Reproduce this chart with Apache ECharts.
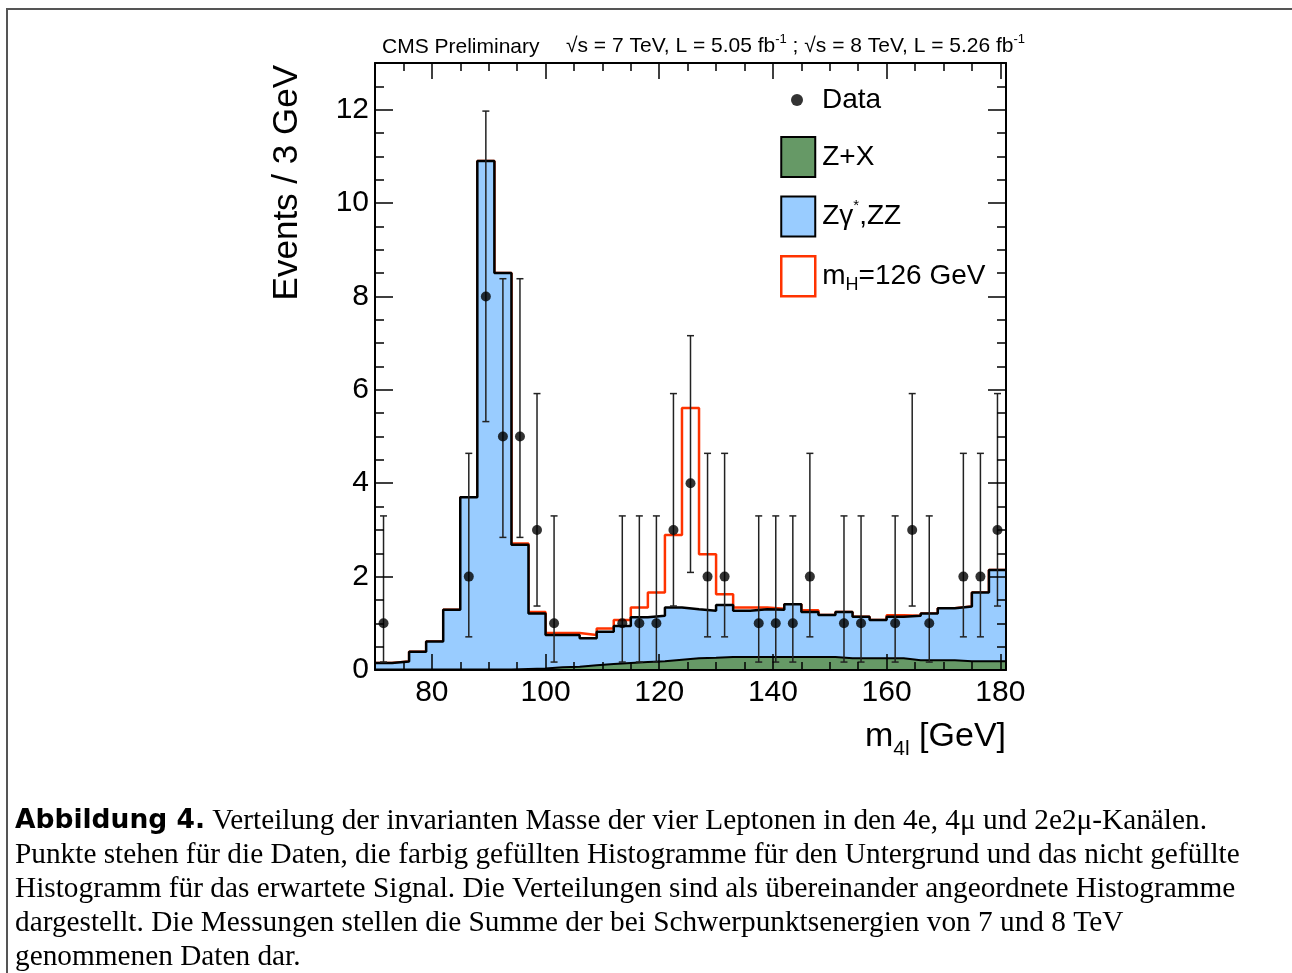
<!DOCTYPE html>
<html>
<head>
<meta charset="utf-8">
<title>m4l distribution</title>
<script src="https://cdn.jsdelivr.net/npm/echarts@6/dist/echarts.min.js"></script>
<style>
  html, body { margin: 0; padding: 0; background: #fff; }
  #chart { width: 1292px; height: 973px; }
</style>
</head>
<body>
<div id="chart"></div>
<script>
// bin edges in GeV (3 GeV bins)
const binEdges = [70, 73, 76, 79, 82, 85, 88, 91, 94, 97, 100, 103, 106, 109, 112, 115, 118, 121, 124,
  127, 130, 133, 136, 139, 142, 145, 148, 151, 154, 157, 160, 163, 166, 169, 172, 175, 178, 181];

// background Z+X per bin
const zxValues = [0.01, 0.01, 0.01, 0.01, 0.01, 0.01, 0.01, 0.01, 0.02, 0.03, 0.06, 0.07, 0.10, 0.13, 0.15,
  0.17, 0.19, 0.22, 0.25, 0.26, 0.28, 0.28, 0.28, 0.28, 0.28, 0.28, 0.28, 0.25, 0.25, 0.25, 0.25, 0.21,
  0.21, 0.21, 0.19, 0.19, 0.19];

// Zgamma*, ZZ per bin (stacked on Z+X)
const zzValues = [0.14, 0.17, 0.38, 0.60, 1.28, 3.69, 10.89, 8.49, 2.66, 1.18, 0.69, 0.68, 0.58, 0.69, 0.79,
  0.96, 0.97, 1.12, 1.05, 1.01, 1.11, 0.99, 1.02, 1.01, 1.13, 0.96, 0.90, 0.99, 0.89, 0.82, 0.89, 0.95,
  1.00, 1.11, 1.17, 1.47, 1.95];

// expected signal mH=126 GeV per bin (on top of background)
const signalValues = [0, 0, 0, 0, 0, 0, 0, 0, 0.03, 0.03, 0.04, 0.04, 0.07, 0.07, 0.13, 0.21, 0.50, 1.55,
  4.31, 1.21, 0.23, 0.07, 0.04, 0.02, 0, 0.04, 0, 0, 0, 0, 0.03, 0, 0, 0, 0, 0, 0];

// data points
const dataMass = [71.5, 86.5, 89.5, 92.5, 95.5, 98.5, 101.5, 113.5, 116.5, 119.5, 122.5, 125.5, 128.5,
  131.5, 137.5, 140.5, 143.5, 146.5, 152.5, 155.5, 161.5, 164.5, 167.5, 173.5, 176.5, 179.5];
const dataCounts = [1, 2, 8, 5, 5, 3, 1, 1, 1, 1, 3, 4, 2, 2, 1, 1, 1, 2, 1, 1, 1, 3, 1, 2, 2, 3];
const errLow = [0.17, 0.71, 5.32, 2.84, 2.84, 1.37, 0.17, 0.17, 0.17, 0.17, 1.37, 2.09, 0.71, 0.71, 0.17,
  0.17, 0.17, 0.71, 0.17, 0.17, 0.17, 1.37, 0.17, 0.71, 0.71, 1.37];
const errHigh = [3.30, 4.64, 11.97, 8.38, 8.38, 5.92, 3.30, 3.30, 3.30, 3.30, 5.92, 7.16, 4.64, 4.64, 3.30,
  3.30, 3.30, 4.64, 3.30, 3.30, 3.30, 5.92, 3.30, 4.64, 4.64, 5.92];

// ticks
const xMajor = [80, 100, 120, 140, 160, 180];
const xMinor = [75, 85, 90, 95, 105, 110, 115, 125, 130, 135, 145, 150, 155, 165, 170, 175];
const yMajor = [0, 2, 4, 6, 8, 10, 12];
const yMinor = [0.5, 1, 1.5, 2.5, 3, 3.5, 4.5, 5, 5.5, 6.5, 7, 7.5, 8.5, 9, 9.5, 10.5, 11, 11.5, 12.5];

const FONT = '"Liberation Sans", Arial, sans-serif';

const totalBg = zxValues.map((v, i) => v + zzValues[i]);
const totalSig = totalBg.map((v, i) => v + signalValues[i]);

const stepPoints = values =>
  values.map((v, i) => [binEdges[i], v]).concat([[binEdges[values.length], values[values.length - 1]]]);

const renderErrorBar = (params, api) => {
  const x = api.value(0);
  const lo = api.coord([x, api.value(1)]);
  const hi = api.coord([x, api.value(2)]);
  const cap = 3.5;
  const style = { stroke: '#222', lineWidth: 1.5 };
  return {
    type: 'group',
    children: [
      { type: 'line', shape: { x1: lo[0], y1: lo[1], x2: hi[0], y2: hi[1] }, style },
      { type: 'line', shape: { x1: hi[0] - cap, y1: hi[1], x2: hi[0] + cap, y2: hi[1] }, style },
      { type: 'line', shape: { x1: lo[0] - cap, y1: lo[1], x2: lo[0] + cap, y2: lo[1] }, style },
    ],
  };
};

const axisBase = (extra) => Object.assign({
  type: 'value',
  z: 10,
  splitLine: { show: false },
  axisLine: { show: false, onZero: false },
  axisLabel: { show: false },
}, extra);

const frameLine = { show: true, onZero: false, lineStyle: { color: '#000', width: 2 } };
const tickStyle = { color: '#000', width: 1.5 };

const legendLabels = {
  'Z+X': '{a|Z+X}',
  'Zγ*,ZZ': '{a|Zγ}{sup|*}{a|,ZZ}',
  'mH=126 GeV': '{a|m}{sub|H}{a|=126 GeV}',
};

const caption =
  '{b|Abbildung 4.} Verteilung der invarianten Masse der vier Leptonen in den 4e, 4μ und 2e2μ-Kanälen.\n' +
  'Punkte stehen für die Daten, die farbig gefüllten Histogramme für den Untergrund und das nicht gefüllte\n' +
  'Histogramm für das erwartete Signal. Die Verteilungen sind als übereinander angeordnete Histogramme\n' +
  'dargestellt. Die Messungen stellen die Summe der bei Schwerpunktsenergien von 7 und 8 TeV\n' +
  'genommenen Daten dar.';

const myChart = echarts.init(document.getElementById('chart'));

const option = {
  animation: false,
  backgroundColor: '#fff',
  title: [
    {
      text: 'CMS Preliminary',
      left: 382, top: 35, padding: 0,
      textStyle: { fontSize: 21, fontWeight: 'normal', fontFamily: FONT, color: '#000', lineHeight: 24 },
    },
    {
      text: '{a|√s = 7 TeV, L = 5.05 fb}{sup|-1}{a| ; √s = 8 TeV, L = 5.26 fb}{sup|-1}',
      left: 566, top: 33, padding: 0,
      textStyle: {
        fontSize: 21, fontWeight: 'normal', fontFamily: FONT, color: '#000',
        rich: {
          a: { fontSize: 21, fontFamily: FONT, color: '#000', lineHeight: 27 },
          sup: { fontSize: 13, fontFamily: FONT, color: '#000', verticalAlign: 'top', lineHeight: 13 },
        },
      },
    },
  ],
  legend: [
    {
      data: ['Data'],
      left: 791, top: 86, padding: 0,
      icon: 'circle', itemWidth: 12, itemHeight: 12,
      selectedMode: false,
      textStyle: { fontSize: 28, fontFamily: FONT, color: '#000', padding: [0, 0, 0, 14] },
    },
    {
      data: [
        { name: 'Z+X', itemStyle: { color: '#669966', borderColor: '#000', borderWidth: 2 } },
        { name: 'Zγ*,ZZ', itemStyle: { color: '#99ccff', borderColor: '#000', borderWidth: 2 } },
        { name: 'mH=126 GeV', itemStyle: { color: '#fff', borderColor: '#ff3300', borderWidth: 2.5 } },
      ],
      orient: 'vertical',
      left: 780, top: 136, padding: 0,
      icon: 'rect', itemWidth: 34, itemHeight: 40, itemGap: 17.5,
      selectedMode: false,
      formatter: name => legendLabels[name],
      textStyle: {
        fontSize: 28, fontFamily: FONT, color: '#000', padding: [0, 0, 0, 2],
        rich: {
          a: { fontSize: 28, fontFamily: FONT, color: '#000', lineHeight: 36 },
          sup: { fontSize: 15, fontFamily: FONT, color: '#000', verticalAlign: 'top', lineHeight: 15 },
          sub: { fontSize: 18, fontFamily: FONT, color: '#000', verticalAlign: 'bottom', lineHeight: 18 },
        },
      },
    },
  ],
  grid: { left: 375, top: 63, width: 631, height: 607, containLabel: false },
  xAxis: [
    axisBase({
      position: 'bottom', min: 70, max: 181,
      axisLine: frameLine,
      axisTick: { show: true, inside: true, length: 16, customValues: xMajor, lineStyle: tickStyle },
      axisLabel: { show: true, customValues: xMajor, fontSize: 30, fontFamily: FONT, color: '#000', margin: 8 },
      name: '{a|m}{sub|4l}{a| [GeV]}',
      nameLocation: 'end', nameGap: 0,
      nameTextStyle: {
        align: 'right', verticalAlign: 'top', padding: [44, 0, 0, 0],
        rich: {
          a: { fontSize: 34, fontFamily: FONT, color: '#000', lineHeight: 46 },
          sub: { fontSize: 21, fontFamily: FONT, color: '#000', verticalAlign: 'bottom', lineHeight: 21 },
        },
      },
    }),
    axisBase({
      position: 'bottom', min: 70, max: 181,
      axisTick: { show: true, inside: true, length: 8, customValues: xMinor, lineStyle: tickStyle },
    }),
    axisBase({
      position: 'top', min: 70, max: 181,
      axisLine: frameLine,
      axisTick: { show: true, inside: true, length: 16, customValues: xMajor, lineStyle: tickStyle },
    }),
    axisBase({
      position: 'top', min: 70, max: 181,
      axisTick: { show: true, inside: true, length: 8, customValues: xMinor, lineStyle: tickStyle },
    }),
  ],
  yAxis: [
    axisBase({
      position: 'left', min: 0, max: 13,
      axisLine: frameLine,
      axisTick: { show: true, inside: true, length: 18, customValues: yMajor, lineStyle: tickStyle },
      axisLabel: { show: true, customValues: yMajor, fontSize: 30, fontFamily: FONT, color: '#000', margin: 6 },
    }),
    axisBase({
      position: 'left', min: 0, max: 13,
      axisTick: { show: true, inside: true, length: 9, customValues: yMinor, lineStyle: tickStyle },
    }),
    axisBase({
      position: 'right', min: 0, max: 13,
      axisLine: frameLine,
      axisTick: { show: true, inside: true, length: 18, customValues: yMajor, lineStyle: tickStyle },
    }),
    axisBase({
      position: 'right', min: 0, max: 13,
      axisTick: { show: true, inside: true, length: 9, customValues: yMinor, lineStyle: tickStyle },
    }),
  ],
  series: [
    {
      name: 'mH=126 GeV',
      type: 'line', step: 'end', symbol: 'none', silent: true,
      data: stepPoints(totalSig),
      lineStyle: { color: '#ff3300', width: 2.5 },
      itemStyle: { color: '#ff3300' },
      z: 2,
    },
    {
      name: 'Zγ*,ZZ',
      type: 'line', step: 'end', symbol: 'none', silent: true,
      data: stepPoints(totalBg),
      lineStyle: { color: '#000', width: 2.5 },
      itemStyle: { color: '#99ccff' },
      areaStyle: { color: '#99ccff', opacity: 1 },
      z: 3,
    },
    {
      name: 'Z+X',
      type: 'line', step: 'end', symbol: 'none', silent: true,
      data: stepPoints(zxValues),
      lineStyle: { color: '#000', width: 2 },
      itemStyle: { color: '#669966' },
      areaStyle: { color: '#669966', opacity: 1 },
      z: 4,
    },
    {
      name: 'err',
      type: 'custom', silent: true,
      renderItem: renderErrorBar,
      encode: { x: 0, y: [1, 2] },
      data: dataMass.map((m, i) => [m, errLow[i], errHigh[i]]),
      z: 5,
    },
    {
      name: 'Data',
      type: 'scatter', silent: true,
      symbolSize: 10,
      data: dataMass.map((m, i) => [m, dataCounts[i]]),
      itemStyle: { color: '#000' },
      z: 6,
    },
  ],
  graphic: [
    {
      type: 'polyline', silent: true,
      shape: { points: [[7, 973], [7, 9], [1292, 9]] },
      style: { stroke: '#555', lineWidth: 2, fill: null },
    },
    {
      type: 'text', silent: true,
      x: 287, y: 65, rotation: Math.PI / 2,
      style: { text: 'Events / 3 GeV', fontSize: 35, fontFamily: FONT, fill: '#000', align: 'right', verticalAlign: 'middle' },
    },
    {
      type: 'text', silent: true,
      x: 15, y: 804,
      style: {
        text: caption,
        fontSize: 29.3, fontFamily: '"Liberation Serif", "Times New Roman", serif', fill: '#000', lineHeight: 34,
        rich: {
          b: { fontSize: 26.5, fontFamily: '"DejaVu Sans", sans-serif', fontWeight: 'bold', fill: '#000', lineHeight: 34 },
        },
      },
    },
  ],
};

myChart.setOption(option);
</script>
</body>
</html>
